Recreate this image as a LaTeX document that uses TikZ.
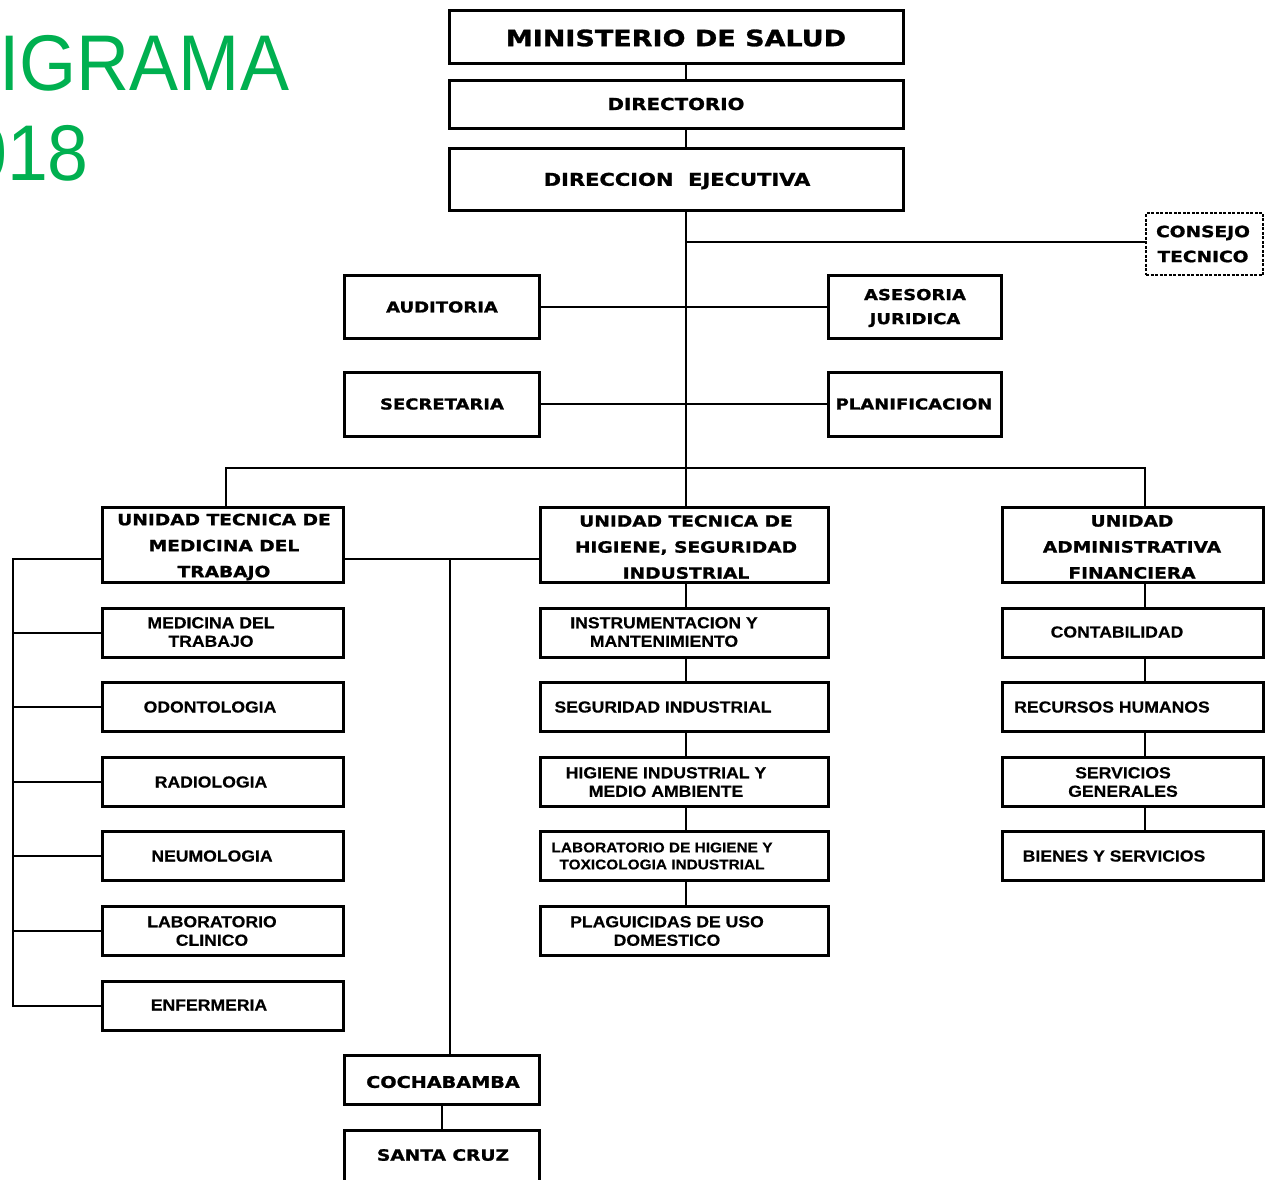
\documentclass[tikz,border=0pt]{standalone}
\usepackage{fontspec}
\newfontfamily\bigf{DejaVu Sans}[FakeStretch=1.2, FakeBold=1.2]
\newfontfamily\smf{Liberation Sans}[FakeStretch=1.1, FakeBold=0.4]
\newfontfamily\titf{Liberation Sans}[FakeStretch=0.93]
\definecolor{titgreen}{HTML}{00B050}
\begin{document}
\begin{tikzpicture}[x=1pt,y=-1pt,
  box/.style={draw, line width=3pt, inner sep=0pt, fill=white},
  dbox/.style={draw, line width=1.3pt, dashed, dash pattern=on 3pt off 1.5pt, inner sep=0pt, fill=white},
  conn/.style={line width=2pt},
  bigt/.style={inner sep=0pt, align=center, font=\bigf\bfseries\fontsize{15}{25}\selectfont},
  smt/.style={inner sep=0pt, align=center, font=\smf\bfseries\fontsize{16}{18.5}\selectfont},
  tit/.style={inner sep=0pt, text=titgreen, font=\titf\fontsize{79}{79}\selectfont}
]
\useasboundingbox (0,0) rectangle (1265,1179);
\clip (0,0) rectangle (1265,1179);
\fill[white] (0,0) rectangle (1265,1179);

% title
\node[tit, anchor=base west] (tit1) at (-1,90) {IGRAMA};
\node[tit, anchor=base east] (tit2) at (89,180) {018};

% helper coordinates
\coordinate (spine) at (686,0);
\coordinate (bL) at (226,468);
\coordinate (bR) at (1145,468);
\coordinate (mid) at (450,559);
\coordinate (lb) at (13,559);
\coordinate (rsp) at (1145,0);
\coordinate (csp) at (442,0);

% boxes
\node[box, minimum width=454pt, minimum height=53pt] (min) at (676,36.5) {};
\node[box, minimum width=454pt, minimum height=48pt] (dir) at (676,104) {};
\node[box, minimum width=454pt, minimum height=62pt] (dex) at (676,179) {};
\node[dbox, minimum width=117pt, minimum height=62pt] (cons) at (1204.5,244) {};
\node[box, minimum width=195pt, minimum height=63pt] (aud) at (441.5,306.5) {};
\node[box, minimum width=173pt, minimum height=63pt] (ase) at (914.5,306.5) {};
\node[box, minimum width=195pt, minimum height=64pt] (sec) at (441.5,404) {};
\node[box, minimum width=173pt, minimum height=64pt] (pla) at (914.5,404) {};
\node[box, minimum width=241pt, minimum height=75pt] (utm) at (222.5,544.5) {};
\node[box, minimum width=288pt, minimum height=75pt] (uth) at (684,544.5) {};
\node[box, minimum width=261pt, minimum height=75pt] (uaf) at (1132.5,544.5) {};

\foreach \n/\y in {l1/632.5,l2/707,l3/782,l4/856,l5/931,l6/1006}
  \node[box, minimum width=241pt, minimum height=49pt] (\n) at (222.5,\y) {};
\foreach \n/\y in {m1/632.5,m2/707,m3/782,m4/856,m5/931}
  \node[box, minimum width=288pt, minimum height=49pt] (\n) at (684,\y) {};
\foreach \n/\y in {r1/632.5,r2/707,r3/782,r4/856}
  \node[box, minimum width=261pt, minimum height=49pt] (\n) at (1132.5,\y) {};
\node[box, minimum width=195pt, minimum height=49pt] (coch) at (441.5,1079.5) {};
\node[box, minimum width=195pt, minimum height=52pt] (sc) at (441.5,1156) {};

% connectors
\draw[conn] (spine |- min.south) -- (spine |- dir.north);
\draw[conn] (spine |- dir.south) -- (spine |- dex.north);
\draw[conn] (spine |- dex.south) -- (spine |- uth.north);
\draw[conn] (spine |- 0,242) -- (cons.west |- 0,242);
\draw[conn] (aud.east) -- (ase.west);
\draw[conn] (sec.east) -- (pla.west);
\draw[conn] (bL |- utm.north) -- (bL) -- (bR) -- (bR |- uaf.north);
\draw[conn] (mid -| utm.east) -- (mid -| uth.west);
\draw[conn] (mid) -- (mid |- coch.north);
\draw[conn] (csp |- coch.south) -- (csp |- sc.north);
\draw[conn] (mid -| utm.west) -- (lb) -- (lb |- l6.west) -- (l6.west);
\foreach \n in {l1,l2,l3,l4,l5}
  \draw[conn] (lb |- \n.west) -- (\n.west);
\draw[conn] (spine |- uth.south) -- (spine |- m1.north);
\draw[conn] (spine |- m1.south) -- (spine |- m2.north);
\draw[conn] (spine |- m2.south) -- (spine |- m3.north);
\draw[conn] (spine |- m3.south) -- (spine |- m4.north);
\draw[conn] (spine |- m4.south) -- (spine |- m5.north);
\draw[conn] (rsp |- uaf.south) -- (rsp |- r1.north);
\draw[conn] (rsp |- r1.south) -- (rsp |- r2.north);
\draw[conn] (rsp |- r2.south) -- (rsp |- r3.north);
\draw[conn] (rsp |- r3.south) -- (rsp |- r4.north);

% texts
\node[bigt, font=\bigf\bfseries\fontsize{22.5}{26}\selectfont] (minT) at (676,38) {MINISTERIO DE SALUD};
\node[bigt, font=\bigf\bfseries\fontsize{16.5}{20}\selectfont] (dirT) at (676,104) {DIRECTORIO};
\node[bigt, font=\bigf\bfseries\fontsize{17.5}{20}\selectfont] (dexT) at (677,181) {DIRECCION\ \ EJECUTIVA};
\node[bigt, font=\bigf\bfseries\fontsize{15.5}{25}\selectfont] (consT) at (1203,244) {CONSEJO\\TECNICO};
\node[bigt, font=\bigf\bfseries\fontsize{15}{24}\selectfont] (audT) at (442,307) {AUDITORIA};
\node[bigt, font=\bigf\bfseries\fontsize{15}{24}\selectfont] (aseT) at (915,308) {ASESORIA\\JURIDICA};
\node[bigt, font=\bigf\bfseries\fontsize{15}{24}\selectfont] (secT) at (442,404) {SECRETARIA};
\node[bigt, font=\bigf\bfseries\fontsize{15}{24}\selectfont] (plaT) at (914,404) {PLANIFICACION};
\node[bigt, font=\bigf\bfseries\fontsize{15.5}{26}\selectfont] (utmT) at (224,547) {UNIDAD TECNICA DE\\MEDICINA DEL\\TRABAJO};
\node[bigt, font=\bigf\bfseries\fontsize{15.5}{26}\selectfont] (uthT) at (686,547) {UNIDAD TECNICA DE\\HIGIENE, SEGURIDAD\\INDUSTRIAL};
\node[bigt, font=\bigf\bfseries\fontsize{15.5}{26}\selectfont] (uafT) at (1132,547) {UNIDAD\\ADMINISTRATIVA\\FINANCIERA};

\node[smt] (l1T) at (211,632) {MEDICINA DEL\\TRABAJO};
\node[smt] (l2T) at (210,707) {ODONTOLOGIA};
\node[smt] (l3T) at (211,782) {RADIOLOGIA};
\node[smt] (l4T) at (212,856) {NEUMOLOGIA};
\node[smt] (l5T) at (212,931) {LABORATORIO\\CLINICO};
\node[smt] (l6T) at (209,1005) {ENFERMERIA};

\node[smt] (m1T) at (664,632) {INSTRUMENTACION Y\\MANTENIMIENTO};
\node[smt] (m2T) at (663,707) {SEGURIDAD INDUSTRIAL};
\node[smt] (m3T) at (666,782) {HIGIENE INDUSTRIAL Y\\MEDIO AMBIENTE};
\node[smt, font=\smf\bfseries\fontsize{14}{17}\selectfont] (m4T) at (662,856) {LABORATORIO DE HIGIENE Y\\TOXICOLOGIA INDUSTRIAL};
\node[smt] (m5T) at (667,931) {PLAGUICIDAS DE USO\\DOMESTICO};

\node[smt] (r1T) at (1117,632) {CONTABILIDAD};
\node[smt] (r2T) at (1112,707) {RECURSOS HUMANOS};
\node[smt] (r3T) at (1123,782) {SERVICIOS\\GENERALES};
\node[smt] (r4T) at (1114,856) {BIENES Y SERVICIOS};

\node[bigt, font=\bigf\bfseries\fontsize{16}{24}\selectfont] (cochT) at (443,1082) {COCHABAMBA};
\node[bigt, font=\bigf\bfseries\fontsize{15.5}{24}\selectfont] (scT) at (443,1155) {SANTA CRUZ};
\end{tikzpicture}
\end{document}
